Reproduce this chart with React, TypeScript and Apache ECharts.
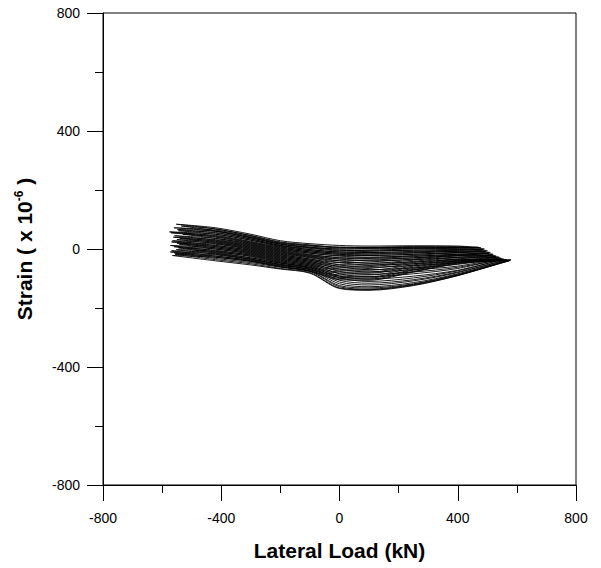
import React, { useEffect, useRef } from "react";
import * as echarts from "echarts";

// x positions of each loading branch sample (negative peak and positive peak per loop given separately)
const branchX = [-420, -300, -200, -100, 0, 100, 250, 400];
const returnX = [400, 250, 100, 0, -100, -200, -300, -420];

const negPeakX = [
  -552, -560, -545, -570, -558, -540, -565, -550, -572, -545, -568, -558, -565,
  -535, -548, -575, -530, -562, -550, -568, -542, -560, -552, -572, -556,
];
const posPeakX = [
  478, 490, 500, 510, 520, 530, 540, 548, 555, 562, 568, 575, 580,
  470, 485, 495, 505, 515, 528, 536, 545, 552, 565, 572, 578,
];

// strain at negative peak, along loading branch (branchX), at positive peak
const loadA: number[][] = [
  [84, 68, 45, 22, 12, 6, 5, 6, 5, 4],
  [72, 60, 38, 16, 4, -4, -6, -4, -2, 0],
  [62, 50, 30, 8, -6, -14, -16, -12, -8, -6],
  [55, 40, 20, 0, -14, -24, -28, -24, -18, -12],
  [45, 30, 12, -8, -22, -34, -40, -36, -28, -18],
  [36, 22, 4, -16, -30, -46, -54, -50, -40, -24],
  [28, 12, -4, -24, -38, -60, -70, -64, -52, -28],
  [20, 4, -12, -32, -46, -76, -86, -78, -62, -32],
  [12, -6, -20, -40, -54, -92, -102, -92, -72, -34],
  [4, -14, -30, -48, -62, -106, -116, -104, -78, -36],
  [-6, -24, -38, -56, -70, -118, -128, -114, -84, -38],
  [-14, -32, -46, -62, -76, -128, -136, -120, -88, -40],
  [-22, -40, -54, -68, -82, -134, -140, -124, -90, -36],
  [78, 62, 40, 18, 6, 0, 2, 3, 4, 6],
  [66, 54, 34, 12, -2, -10, -12, -8, -4, -2],
  [58, 44, 24, 4, -10, -18, -22, -18, -12, -8],
  [50, 36, 16, -4, -18, -30, -34, -30, -22, -14],
  [40, 26, 8, -12, -26, -40, -48, -44, -34, -20],
  [32, 18, 0, -20, -34, -54, -62, -56, -46, -26],
  [24, 8, -8, -28, -42, -68, -78, -70, -58, -30],
  [16, 0, -16, -36, -50, -84, -94, -84, -66, -32],
  [8, -10, -24, -44, -58, -98, -110, -98, -74, -35],
  [-2, -18, -34, -52, -66, -112, -122, -108, -80, -37],
  [-10, -28, -42, -60, -74, -124, -132, -118, -86, -39],
  [-18, -36, -50, -66, -80, -132, -138, -122, -90, -38],
];

// strain along the return branch (returnX)
const unloadB: number[][] = [
  [10, 11, 10, 12, 18, 28, 50, 72],
  [8, 6, 4, 4, 10, 20, 42, 64],
  [2, 0, -4, -6, 2, 12, 34, 56],
  [-6, -10, -12, -14, -6, 6, 26, 46],
  [-12, -18, -22, -22, -14, -2, 18, 36],
  [-18, -26, -32, -34, -24, -10, 10, 28],
  [-22, -34, -44, -46, -34, -18, 2, 20],
  [-28, -42, -56, -58, -42, -26, -6, 12],
  [-34, -50, -66, -68, -50, -34, -14, 4],
  [-38, -58, -78, -78, -58, -42, -22, -4],
  [-42, -66, -88, -88, -64, -48, -30, -12],
  [-46, -72, -98, -96, -70, -54, -36, -20],
  [-50, -78, -106, -104, -76, -60, -42, -28],
  [6, 8, 6, 6, 14, 24, 46, 68],
  [4, 2, 0, 0, 6, 16, 38, 60],
  [-2, -4, -8, -10, -2, 10, 30, 50],
  [-8, -14, -18, -18, -10, 2, 22, 42],
  [-14, -22, -28, -28, -20, -6, 14, 32],
  [-20, -30, -38, -40, -28, -14, 6, 24],
  [-24, -38, -50, -52, -38, -22, -2, 16],
  [-30, -46, -60, -62, -46, -30, -10, 8],
  [-36, -54, -72, -72, -54, -38, -18, 0],
  [-40, -62, -82, -82, -62, -46, -26, -8],
  [-44, -70, -94, -92, -68, -52, -34, -16],
  [-48, -76, -102, -100, -74, -58, -40, -24],
];

const axisTicks = [-800, -400, 0, 400, 800];

function buildLoop(i: number): number[][] {
  const a = loadA[i];
  const pts: number[][] = [];
  pts.push([negPeakX[i], a[0]]);
  branchX.forEach((x, j) => pts.push([x, a[j + 1]]));
  pts.push([posPeakX[i], a[9]]);
  returnX.forEach((x, j) => pts.push([x, unloadB[i][j]]));
  pts.push([negPeakX[i], a[0]]);
  return pts;
}

export default function App() {
  const ref = useRef<HTMLDivElement>(null);
  useEffect(() => {
    document.body.style.margin = "0";
    document.body.style.overflow = "hidden";
    if (!ref.current) return;
    const chart = echarts.init(ref.current, null, { renderer: "svg" });
    const font = "'Liberation Sans', Arial, sans-serif";
    const axisCommon = {
      type: "value" as const,
      min: axisTicks[0],
      max: axisTicks[axisTicks.length - 1],
      interval: 400,
      axisLine: { show: true, onZero: false, lineStyle: { color: "#000", width: 1 } },
      axisTick: { show: true, inside: false, length: 16, lineStyle: { color: "#000" } },
      minorTick: { show: true, splitNumber: 2, length: 8, lineStyle: { color: "#000" } },
      splitLine: { show: false },
      minorSplitLine: { show: false },
    };
    chart.setOption({
      animation: false,
      backgroundColor: "#fff",
      grid: {
        left: 103, right: 25, top: 13, bottom: 83,
        outerBoundsMode: "none",
        containLabel: false,
        show: true, borderColor: "#000", borderWidth: 1, backgroundColor: "transparent",
      },
      xAxis: {
        ...axisCommon,
        axisLabel: { margin: 26, fontSize: 14, color: "#000", fontFamily: font },
        name: "Lateral Load (kN)",
        nameLocation: "middle",
        nameGap: 55,
        nameTextStyle: { fontSize: 21, fontWeight: "bold", color: "#000", fontFamily: font },
      },
      yAxis: {
        ...axisCommon,
        axisLabel: { margin: 23, fontSize: 14, color: "#000", fontFamily: font },
        name: "{a|Strain ( x 10}{s|-6}{a| )}",
        nameLocation: "middle",
        nameRotate: 90,
        nameGap: 68,
        nameTextStyle: {
          color: "#000",
          fontFamily: font,
          rich: {
            a: { fontSize: 21, fontWeight: "bold", color: "#000", fontFamily: font },
            s: { fontSize: 12, fontWeight: "bold", color: "#000", fontFamily: font, verticalAlign: "top", padding: [0, 0, 10, 0] },
          },
        },
      },
      series: loadA.map((_, i) => ({
        type: "line",
        data: buildLoop(i),
        showSymbol: false,
        smooth: 0.3,
        lineStyle: { color: "#000", width: 0.9 },
        silent: true,
      })),
    });
    return () => chart.dispose();
  }, []);
  return <div ref={ref} style={{ width: 601, height: 568 }} />;
}
